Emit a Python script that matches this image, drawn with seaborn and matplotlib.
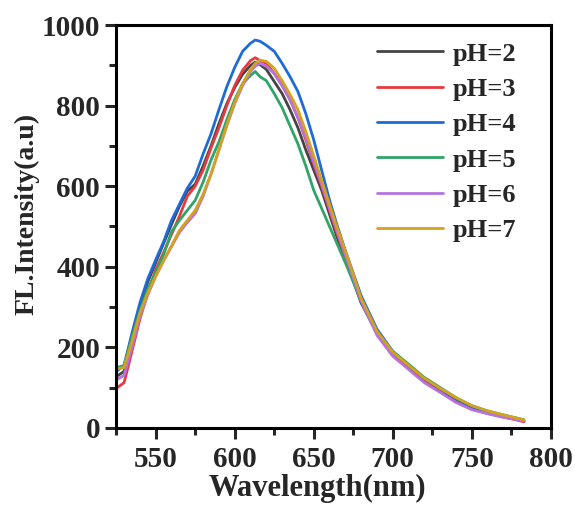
import numpy as np
import pandas as pd
import matplotlib
matplotlib.use("Agg")
import matplotlib.pyplot as plt
import seaborn as sns
from matplotlib.ticker import MultipleLocator

# wavelength grid (nm) and intensities
wavelength = [525, 530, 535, 540, 545, 550, 555, 560, 565, 570, 575, 580, 585, 590, 595,
              600, 605, 610, 613, 616, 620, 625, 630, 635, 640, 645, 650, 655, 660, 665,
              670, 680, 690, 700, 710, 720, 730, 740, 750, 760, 770, 783]

ph2 = [127, 140, 225, 300, 362, 410, 458, 505, 550, 588, 605, 650, 700, 755, 805,
       845, 878, 900, 908, 902, 890, 860, 830, 790, 745, 690, 640, 590, 530, 470,
       420, 310, 235, 180, 148, 115, 92, 68, 48, 36, 27, 17]
ph3 = [98, 112, 190, 270, 335, 392, 435, 480, 525, 575, 600, 640, 695, 745, 800,
       850, 888, 912, 919, 912, 905, 880, 850, 815, 770, 715, 655, 600, 540, 480,
       425, 318, 238, 185, 150, 118, 95, 70, 50, 38, 28, 15]
ph4 = [140, 155, 235, 310, 370, 417, 462, 515, 555, 595, 625, 680, 730, 790, 847,
       895, 935, 955, 963, 960, 950, 935, 905, 872, 835, 780, 715, 640, 565, 500,
       440, 328, 245, 190, 155, 122, 97, 72, 52, 40, 30, 17]
ph5 = [149, 155, 225, 290, 345, 385, 430, 487, 515, 540, 565, 610, 665, 710, 765,
       815, 855, 875, 885, 872, 862, 830, 795, 750, 705, 650, 590, 545, 500, 455,
       410, 315, 235, 190, 158, 125, 100, 75, 55, 42, 32, 20]
ph6 = [119, 130, 200, 275, 330, 376, 415, 450, 485, 510, 532, 575, 630, 690, 750,
       805, 850, 885, 898, 905, 898, 880, 850, 815, 770, 720, 660, 605, 545, 485,
       430, 315, 230, 178, 145, 112, 88, 63, 45, 35, 26, 17]
ph7 = [146, 150, 215, 285, 335, 376, 415, 452, 490, 515, 540, 580, 630, 690, 752,
       808, 855, 890, 905, 913, 910, 893, 862, 828, 790, 735, 675, 615, 555, 495,
       440, 322, 240, 188, 155, 123, 98, 75, 55, 42, 32, 20]

labels = ["pH=2", "pH=3", "pH=4", "pH=5", "pH=6", "pH=7"]
series = [ph2, ph3, ph4, ph5, ph6, ph7]
colors = ["#444444", "#e8393f", "#1c6bd8", "#2fa466", "#b573e0", "#d4a21c"]

df = pd.concat(
    [pd.DataFrame({"Wavelength": wavelength, "Intensity": s, "pH": lab})
     for lab, s in zip(labels, series)],
    ignore_index=True,
)

sns.set_style("ticks")
plt.rcParams["font.family"] = ["Liberation Serif", "DejaVu Serif"]
plt.rcParams["font.weight"] = "bold"

fig = plt.figure(figsize=(5.75, 5.13), dpi=100)
ax = fig.add_axes([0.202, 0.166, 0.756, 0.785])

sns.lineplot(data=df, x="Wavelength", y="Intensity", hue="pH",
             palette=colors, linewidth=2, ax=ax)

ax.set_xlim(525, 800)
ax.set_ylim(0, 1000)
ax.xaxis.set_major_locator(MultipleLocator(50))
ax.xaxis.set_minor_locator(MultipleLocator(25))
ax.yaxis.set_major_locator(MultipleLocator(200))
ax.yaxis.set_minor_locator(MultipleLocator(100))

for sp in ax.spines.values():
    sp.set_linewidth(2.2)
    sp.set_color("black")
ax.tick_params(which="major", direction="out", length=8, width=2.2,
               labelsize=21, top=False, right=False)
ax.tick_params(axis="x", which="major", pad=5)
ax.tick_params(which="minor", direction="out", length=5, width=2.2,
               top=False, right=False)
for t in ax.get_xticklabels() + ax.get_yticklabels():
    t.set_fontweight("bold")

ax.set_xlabel("Wavelength(nm)", fontsize=22, fontweight="bold")
ax.set_ylabel("FL.Intensity(a.u)", fontsize=20, fontweight="bold")
ax.xaxis.set_label_coords(0.464, -0.115)
ax.yaxis.set_label_coords(-0.176, 0.532)

leg = ax.legend(loc="upper left", bbox_to_anchor=(0.546, 1.017), frameon=False,
                handlelength=2.5, handletextpad=0.35, labelspacing=0.45,
                prop={"weight": "bold", "size": 19})
for line in leg.get_lines():
    line.set_linewidth(2)

fig.savefig("out.png", dpi=100)
